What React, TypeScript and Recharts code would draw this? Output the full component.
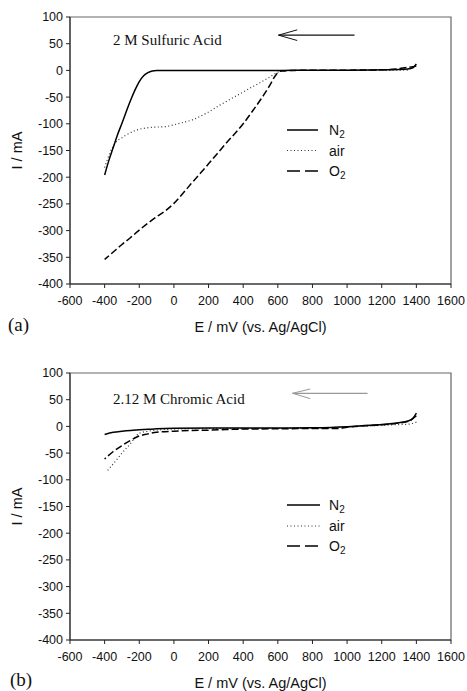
import React from 'react';
import { LineChart, Line, XAxis, YAxis, ReferenceArea, ReferenceLine, Legend, Label } from 'recharts';

const xTicks = [-600, -400, -200, 0, 200, 400, 600, 800, 1000, 1200, 1400, 1600];
const yTicks = [100, 50, 0, -50, -100, -150, -200, -250, -300, -350, -400];

// Panel (a) – 2 M sulfuric acid
const sulfN2E = [1400, 1380, 1350, 1300, 1200, 1000, 800, 600, 400, 200, 0, -100, -125, -150, -175, -200, -225, -250, -275, -300, -325, -350, -375, -400];
const sulfN2I = [12, 5, 2.5, 1.5, 1, 0.5, 0.5, 0, 0, 0, 0, 0, -1, -4, -10, -21, -37, -56, -77, -99, -120, -144, -168, -196];

const sulfAirE = [1350, 1200, 1000, 800, 700, 622, 593, 555, 497, 419, 342, 265, 188, 111, 33, -44, -141, -218, -276, -300, -334, -370, -400];
const sulfAirI = [0.5, 0.5, 0, 0, 0, -0.6, -4.5, -12, -23, -37, -51, -65, -80, -92, -99, -105, -107, -112, -121, -126, -134, -155, -182];

const sulfO2E = [1400, 1200, 1000, 800, 700, 620, 590, 550, 500, 450, 400, 300, 200, 100, 50, 0, -50, -100, -150, -200, -250, -300, -350, -400];
const sulfO2I = [8, 1, 0.5, 0.5, 0, -1, -8, -30, -55, -78, -100, -137, -175, -212, -231, -249, -263, -274, -286, -299, -313, -326, -340, -354];

// Panel (b) – 2.12 M chromic acid
const chromN2E = [1400, 1380, 1350, 1300, 1200, 1100, 1000, 800, 600, 400, 200, 0, -100, -150, -200, -250, -300, -350, -400];
const chromN2I = [25, 15, 10, 7, 3.5, 1.5, -0.5, -2.5, -3, -3, -3, -3.5, -4.5, -5.5, -6.5, -7.5, -9, -11, -15];

const chromAirE = [1400, 1350, 1300, 1200, 1000, 800, 600, 400, 200, 0, -100, -150, -200, -220, -250, -300, -350, -390];
const chromAirI = [8, 4, 3.5, 2, -1, -3, -3.5, -4, -4, -5, -7, -9, -13, -19, -32, -50, -70, -85];

const chromO2E = [1400, 1350, 1300, 1200, 1100, 1000, 950, 900, 800, 600, 400, 300, 200, 100, 0, -100, -150, -200, -250, -300, -350, -400];
const chromO2I = [20, 9, 6.5, 3, 1, -1.5, -4, -4, -4, -4.5, -5, -6, -7, -7.5, -9, -11, -14, -18, -26, -36, -47, -61];

const toPoints = (e: number[], i: number[]) => e.map((x, k) => ({ e: x, i: i[k] }));

const sansFont = '"Liberation Sans", Arial, sans-serif';
const serifFont = '"Liberation Serif", "Times New Roman", serif';

const XTitle = (props: any) => {
  const vb = props.viewBox || { x: 70, y: 284, width: 381, height: 51 };
  return (
    <text x={vb.x + vb.width / 2} y={vb.y + 43} textAnchor="middle" dominantBaseline="central" fontSize={14.5} fontFamily={sansFont} fill="#111">
      E / mV (vs. Ag/AgCl)
    </text>
  );
};

const YTitle = (props: any) => {
  const vb = props.viewBox || { x: 0, y: 17, width: 70, height: 267 };
  const cy = vb.y + vb.height / 2;
  return (
    <text x={17} y={cy} transform={`rotate(-90 17 ${cy})`} textAnchor="middle" dominantBaseline="central" fontSize={14.5} fontFamily={sansFont} fill="#111">
      I / mA
    </text>
  );
};

const makeLegend = (rows: number[], lineEnd: number) => () => (
  <svg width={110} height={64} style={{ display: 'block', overflow: 'visible' }}>
    <line x1={2} x2={lineEnd} y1={rows[0]} y2={rows[0]} stroke="#000" strokeWidth={1.5} />
    <text x={44} y={rows[0]} dominantBaseline="central" fontSize={14} fontFamily={sansFont} fill="#111">
      N<tspan dy={4} fontSize={10}>2</tspan>
    </text>
    <line x1={2} x2={lineEnd} y1={rows[1]} y2={rows[1]} stroke="#333" strokeWidth={1.2} strokeDasharray="1 2.5" />
    <text x={44} y={rows[1]} dominantBaseline="central" fontSize={14} fontFamily={sansFont} fill="#111">air</text>
    <line x1={2} x2={lineEnd} y1={rows[2]} y2={rows[2]} stroke="#000" strokeWidth={1.5} strokeDasharray="13 5" />
    <text x={44} y={rows[2]} dominantBaseline="central" fontSize={14} fontFamily={sansFont} fill="#111">
      O<tspan dy={4} fontSize={10}>2</tspan>
    </text>
  </svg>
);

type Arrow = { tip: number; tail: number; y: number; headX: number; headUp: number; headDown: number };

const sulfArrow: Arrow = { tip: 604, tail: 1043, y: 66, headX: 712, headUp: 76, headDown: 56 };
const chromArrow: Arrow = { tip: 685, tail: 1118, y: 62, headX: 787, headUp: 70, headDown: 52 };

function Panel(props: {
  top: number;
  title: string;
  titleTop: number;
  n2: { e: number; i: number }[];
  air: { e: number; i: number }[];
  o2: { e: number; i: number }[];
  arrow: Arrow;
  arrowColor: string;
  legendTop: number;
  legendRows: number[];
  legendLineEnd: number;
}) {
  const { arrow } = props;
  const tickStyle = { fill: '#111', fontSize: 12.5, fontFamily: sansFont };
  return (
    <div style={{ position: 'absolute', left: 0, top: props.top, width: 467, height: 335 }}>
      <LineChart width={467} height={335} margin={{ top: 17, right: 16, bottom: 0, left: 0 }}>
        <XAxis
          type="number"
          dataKey="e"
          domain={[-600, 1600]}
          ticks={xTicks}
          interval={0}
          height={51}
          tickSize={4}
          tickMargin={8}
          axisLine={{ stroke: '#222' }}
          tickLine={{ stroke: '#222' }}
          tick={tickStyle}
          allowDataOverflow
        >
          <Label content={XTitle} />
        </XAxis>
        <YAxis
          type="number"
          domain={[-400, 100]}
          ticks={yTicks}
          interval={0}
          width={70}
          tickSize={4}
          tickMargin={3}
          axisLine={{ stroke: '#222' }}
          tickLine={{ stroke: '#222' }}
          tick={tickStyle}
          allowDataOverflow
        >
          <Label content={YTitle} />
        </YAxis>
        <ReferenceArea x1={-600} x2={1600} y1={-400} y2={100} fill="none" stroke="#666" strokeWidth={1.2} ifOverflow="visible" />
        <ReferenceLine segment={[{ x: arrow.tail, y: arrow.y }, { x: arrow.tip, y: arrow.y }]} stroke={props.arrowColor} strokeWidth={1.2} />
        <ReferenceLine segment={[{ x: arrow.tip, y: arrow.y }, { x: arrow.headX, y: arrow.headUp }]} stroke={props.arrowColor} strokeWidth={1} />
        <ReferenceLine segment={[{ x: arrow.tip, y: arrow.y }, { x: arrow.headX, y: arrow.headDown }]} stroke={props.arrowColor} strokeWidth={1} />
        <Line data={props.air} dataKey="i" name="air" type="monotone" stroke="#333" strokeWidth={1.2} strokeDasharray="1 2.5" dot={false} isAnimationActive={false} />
        <Line data={props.o2} dataKey="i" name="O2" type="monotone" stroke="#000" strokeWidth={1.5} strokeDasharray="7 3" dot={false} isAnimationActive={false} />
        <Line data={props.n2} dataKey="i" name="N2" type="monotone" stroke="#000" strokeWidth={1.5} dot={false} isAnimationActive={false} />
        <Legend
          layout="vertical"
          align="center"
          verticalAlign="middle"
          content={makeLegend(props.legendRows, props.legendLineEnd)}
          wrapperStyle={{ position: 'absolute', left: 285, top: props.legendTop, width: 110, height: 64, margin: 0 }}
        />
      </LineChart>
      <div style={{ position: 'absolute', left: 113, top: props.titleTop, fontFamily: serifFont, fontSize: 15, lineHeight: '15px', whiteSpace: 'nowrap', color: '#111' }}>
        {props.title}
      </div>
    </div>
  );
}

export default function App() {
  return (
    <div style={{ position: 'absolute', left: 0, top: 0, width: 467, height: 691, background: '#fff', overflow: 'hidden' }}>
      <Panel
        top={0}
        title="2 M Sulfuric Acid"
        titleTop={33}
        n2={toPoints(sulfN2E, sulfN2I)}
        air={toPoints(sulfAirE, sulfAirI)}
        o2={toPoints(sulfO2E, sulfO2I)}
        arrow={sulfArrow}
        arrowColor="#111"
        legendTop={120}
        legendRows={[10, 30.5, 51]}
        legendLineEnd={33}
      />
      <Panel
        top={356}
        title="2.12 M Chromic Acid"
        titleTop={36}
        n2={toPoints(chromN2E, chromN2I)}
        air={toPoints(chromAirE, chromAirI)}
        o2={toPoints(chromO2E, chromO2I)}
        arrow={chromArrow}
        arrowColor="#999"
        legendTop={139}
        legendRows={[10, 31, 51]}
        legendLineEnd={35}
      />
      <div style={{ position: 'absolute', left: 8, top: 315, fontFamily: serifFont, fontSize: 19, lineHeight: '19px', color: '#111' }}>(a)</div>
      <div style={{ position: 'absolute', left: 10, top: 670, fontFamily: serifFont, fontSize: 19, lineHeight: '19px', color: '#111' }}>(b)</div>
    </div>
  );
}
